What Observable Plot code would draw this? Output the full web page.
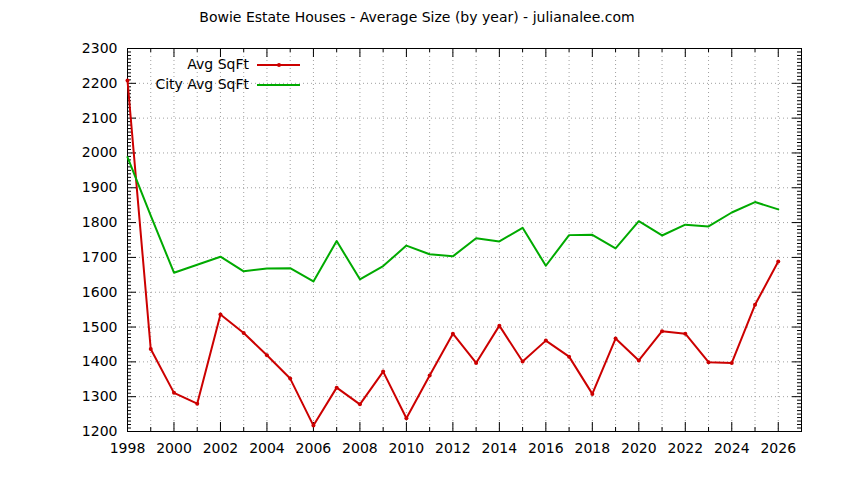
<!DOCTYPE html>
<html><head><meta charset="utf-8">
<script src="https://cdn.jsdelivr.net/npm/d3@7"></script>
<script src="https://cdn.jsdelivr.net/npm/@observablehq/plot@0.6"></script>
<style>
body{margin:0;background:#fff;}
#chart{position:relative;width:844px;height:480px;}
</style>
</head><body><div id="chart"></div>
<script>
const titleText = "Bowie Estate Houses - Average Size (by year) - julianalee.com";
const years = [1998,1999,2000,2001,2002,2003,2004,2005,2006,2007,2008,2009,2010,2011,2012,2013,2014,2015,2016,2017,2018,2019,2020,2021,2022,2023,2024,2025,2026];
const avgSqft = [2208,1437,1311,1280,1536,1483,1419,1352,1217,1326,1278,1372,1238,1361,1481,1397,1504,1401,1461,1415,1308,1467,1404,1488,1481,1399,1397,1564,1688];
const cityAvgSqft = [1988,1820,1656,1679,1702,1660,1668,1669,1631,1747,1637,1675,1734,1709,1703,1755,1746,1785,1676,1764,1765,1726,1804,1763,1794,1789,1829,1859,1838];
const xTickLabels = [1998,2000,2002,2004,2006,2008,2010,2012,2014,2016,2018,2020,2022,2024,2026];
const yTickLabels = [1200,1300,1400,1500,1600,1700,1800,1900,2000,2100,2200,2300];
const seriesNames = ["Avg SqFt","City Avg SqFt"];

const table = years.map((year,i)=>({year, avg: avgSqft[i], city: cityAvgSqft[i]}));

const W=844,H=480,mL=127,mR=43,mT=48,mB=49;
const iw=W-mL-mR, ih=H-mT-mB;
const RED="#cc0000", GREEN="#00aa00";
const font="DejaVu Sans, sans-serif";
const FS=14;

const xDomain=[1998,2027], yDomain=[1200,2300];
const minorX = d3.range(1999,2027,2);
const minorY = d3.range(1210,2300,10).filter(v=>v%100!==0);
const gridXv = d3.range(1999,2027);
const gridYv = yTickLabels.filter(v=>v>yDomain[0] && v<yDomain[1]);

const chart = Plot.plot({
  width:W,height:H,marginLeft:mL,marginRight:mR,marginTop:mT,marginBottom:mB,
  style:{fontFamily:font,fontSize:FS+"px",color:"#000",background:"#fff",overflow:"visible"},
  x:{domain:xDomain},
  y:{domain:yDomain},
  marks:[
    Plot.gridX(gridXv,{stroke:"#a0a0a0",strokeOpacity:1,strokeDasharray:"1,3"}),
    Plot.gridY(gridYv,{stroke:"#a0a0a0",strokeOpacity:1,strokeDasharray:"1,3"}),
    Plot.axisX(xTickLabels,{tickSize:0,tickPadding:12,tickFormat:d=>String(d),fontSize:FS,label:null}),
    Plot.axisY(yTickLabels,{tickSize:0,tickPadding:10,tickFormat:d=>String(d),fontSize:FS,label:null}),
    // inward ticks, left/right
    Plot.tickY(yTickLabels,{stroke:"#000",insetRight:iw-9}),
    Plot.tickY(yTickLabels,{stroke:"#000",insetLeft:iw-9}),
    Plot.tickY(minorY,{stroke:"#000",insetRight:iw-4}),
    Plot.tickY(minorY,{stroke:"#000",insetLeft:iw-4}),
    // inward ticks, bottom/top
    Plot.tickX(xTickLabels,{stroke:"#000",insetTop:ih-9}),
    Plot.tickX(xTickLabels,{stroke:"#000",insetBottom:ih-9}),
    Plot.tickX(minorX,{stroke:"#000",insetTop:ih-4}),
    Plot.tickX(minorX,{stroke:"#000",insetBottom:ih-4}),
    Plot.frame({stroke:"#000"}),
    Plot.line(table,{x:"year",y:"avg",stroke:RED,strokeWidth:2}),
    Plot.dot(table,{x:"year",y:"avg",r:2,fill:RED}),
    Plot.line(table,{x:"year",y:"city",stroke:GREEN,strokeWidth:2})
  ]
});
document.getElementById("chart").appendChild(chart);

const svg=d3.select(chart);
svg.append("text").attr("x",417).attr("y",18).attr("text-anchor","middle").attr("dominant-baseline","middle")
  .attr("font-family",font).attr("font-size",FS).attr("fill","#000").text(titleText);

const leg = svg.append("g");
const legColors=[RED,GREEN];
seriesNames.forEach((name,i)=>{
  const y=65+i*20;
  leg.append("text").attr("x",249).attr("y",y).attr("text-anchor","end").attr("dominant-baseline","middle")
    .attr("font-family",font).attr("font-size",FS).attr("fill","#000").text(name);
  leg.append("line").attr("x1",257).attr("x2",300).attr("y1",y).attr("y2",y)
    .attr("stroke",legColors[i]).attr("stroke-width",2);
  if(i===0) leg.append("circle").attr("cx",279).attr("cy",y).attr("r",2).attr("fill",RED);
});
</script>
</body></html>
